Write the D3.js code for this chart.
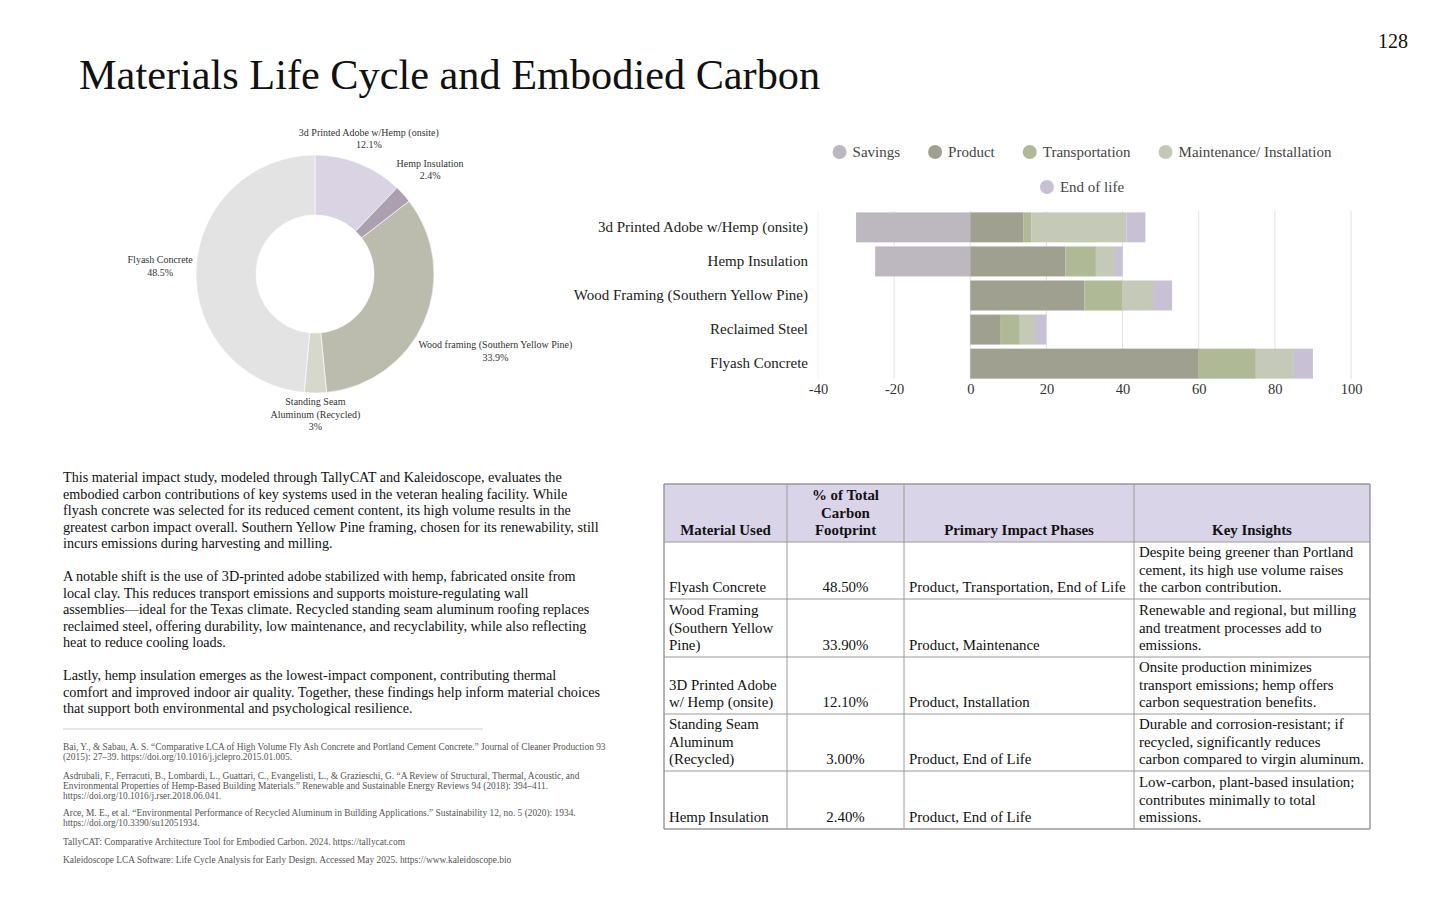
<!DOCTYPE html>
<html>
<head>
<meta charset="utf-8">
<script src="https://cdnjs.cloudflare.com/ajax/libs/d3/7.8.5/d3.min.js"></script>
<style>
body { margin: 0; background: #fff; }
svg text { font-family: "Liberation Serif", "Times New Roman", serif; }
</style>
</head>
<body>
<div id="page"></div>
<script>
// donut data
var pieLabels = ["3d Printed Adobe w/Hemp (onsite)", "Hemp Insulation", "Wood framing (Southern Yellow Pine)", "Standing Seam|Aluminum (Recycled)", "Flyash Concrete"];
var pieValues = [12.1, 2.4, 33.9, 3, 48.5];
var pieColors = ["#d9d3e4", "#ab9fb0", "#bbbcae", "#d5d8ca", "#e3e3e3"];

// stacked bar data
var barCategories = ["3d Printed Adobe w/Hemp (onsite)", "Hemp Insulation", "Wood Framing (Southern Yellow Pine)", "Reclaimed Steel", "Flyash Concrete"];
var savings = [-30, -25, 0, 0, 0];
var product = [14, 25, 30, 8, 60];
var transportation = [2, 8, 10, 5, 15];
var maintenance = [25, 5, 8, 4, 10];
var endOfLife = [5, 2, 5, 3, 5];
var seriesNames = ["Savings", "Product", "Transportation", "Maintenance/ Installation", "End of life"];
var seriesColors = ["#bdb8c0", "#9fa090", "#afb995", "#c5c9b8", "#c8c1d6"];
var xTicks = [-40, -20, 0, 20, 40, 60, 80, 100];

// table
var tableHeader = [["Material Used"], ["% of Total", "Carbon", "Footprint"], ["Primary Impact Phases"], ["Key Insights"]];
var tableMaterials = [["Flyash Concrete"], ["Wood Framing", "(Southern Yellow", "Pine)"], ["3D Printed Adobe", "w/ Hemp (onsite)"], ["Standing Seam", "Aluminum", "(Recycled)"], ["Hemp Insulation"]];
var tableShares = ["48.50%", "33.90%", "12.10%", "3.00%", "2.40%"];
var tablePhases = ["Product, Transportation, End of Life", "Product, Maintenance", "Product, Installation", "Product, End of Life", "Product, End of Life"];
var tableInsights = [
  ["Despite being greener than Portland", "cement, its high use volume raises", "the carbon contribution."],
  ["Renewable and regional, but milling", "and treatment processes add to", "emissions."],
  ["Onsite production minimizes", "transport emissions; hemp offers", "carbon sequestration benefits."],
  ["Durable and corrosion-resistant; if", "recycled, significantly reduces", "carbon compared to virgin aluminum."],
  ["Low-carbon, plant-based insulation;", "contributes minimally to total", "emissions."]
];

var bodyParagraphs = [
  ["This material impact study, modeled through TallyCAT and Kaleidoscope, evaluates the",
   "embodied carbon contributions of key systems used in the veteran healing facility. While",
   "flyash concrete was selected for its reduced cement content, its high volume results in the",
   "greatest carbon impact overall. Southern Yellow Pine framing, chosen for its renewability, still",
   "incurs emissions during harvesting and milling."],
  ["A notable shift is the use of 3D-printed adobe stabilized with hemp, fabricated onsite from",
   "local clay. This reduces transport emissions and supports moisture-regulating wall",
   "assemblies\u2014ideal for the Texas climate. Recycled standing seam aluminum roofing replaces",
   "reclaimed steel, offering durability, low maintenance, and recyclability, while also reflecting",
   "heat to reduce cooling loads."],
  ["Lastly, hemp insulation emerges as the lowest-impact component, contributing thermal",
   "comfort and improved indoor air quality. Together, these findings help inform material choices",
   "that support both environmental and psychological resilience."]
];

var references = [
  ["Bai, Y., & Sabau, A. S. \u201cComparative LCA of High Volume Fly Ash Concrete and Portland Cement Concrete.\u201d Journal of Cleaner Production 93",
   "(2015): 27\u201339. https://doi.org/10.1016/j.jclepro.2015.01.005."],
  ["Asdrubali, F., Ferracuti, B., Lombardi, L., Guattari, C., Evangelisti, L., & Grazieschi, G. \u201cA Review of Structural, Thermal, Acoustic, and",
   "Environmental Properties of Hemp-Based Building Materials.\u201d Renewable and Sustainable Energy Reviews 94 (2018): 394\u2013411.",
   "https://doi.org/10.1016/j.rser.2018.06.041."],
  ["Arce, M. E., et al. \u201cEnvironmental Performance of Recycled Aluminum in Building Applications.\u201d Sustainability 12, no. 5 (2020): 1934.",
   "https://doi.org/10.3390/su12051934."],
  ["TallyCAT: Comparative Architecture Tool for Embodied Carbon. 2024. https://tallycat.com"],
  ["Kaleidoscope LCA Software: Life Cycle Analysis for Early Design. Accessed May 2025. https://www.kaleidoscope.bio"]
];

var svg = d3.select("#page").append("svg")
    .attr("width", 1440)
    .attr("height", 923);

// page title and number
svg.append("text")
    .attr("x", 79).attr("y", 89)
    .style("font-size", "42.3px")
    .attr("fill", "#111")
    .text("Materials Life Cycle and Embodied Carbon");
svg.append("text")
    .attr("x", 1408).attr("y", 48)
    .attr("text-anchor", "end")
    .style("font-size", "20px")
    .attr("fill", "#111")
    .text("128");

// ---------- donut ----------
var cx = 315, cy = 274, outerR = 119, innerR = 59;
var pie = d3.pie().sort(null).value(function (d) { return d; });
var arc = d3.arc().innerRadius(innerR).outerRadius(outerR);
var donut = svg.append("g").attr("transform", "translate(" + cx + "," + cy + ")");
var arcs = pie(pieValues);
donut.selectAll("path")
    .data(arcs)
    .enter().append("path")
    .attr("d", arc)
    .attr("fill", function (d, i) { return pieColors[i]; })
    .attr("stroke", "#fff")
    .attr("stroke-width", 0.6);

// labels pushed outward along the mid angle until they clear the ring
arcs.forEach(function (a, i) {
    var lines = pieLabels[i].split("|");
    lines.push((pieValues[i] + "%"));
    var lineH = 12.5;
    var g = donut.append("g");
    var t = g.append("text")
        .attr("text-anchor", "middle")
        .style("font-size", "10px")
        .attr("fill", "#333");
    lines.forEach(function (l, k) {
        t.append("tspan").attr("x", 0).attr("y", k * lineH).text(l);
    });
    var w = 0;
    t.selectAll("tspan").each(function () { w = Math.max(w, this.getComputedTextLength()); });
    var hw = w / 2, hh = lines.length * lineH / 2;
    var mid = (a.startAngle + a.endAngle) / 2;
    var sx = Math.sin(mid), sy = -Math.cos(mid);
    var d = outerR;
    for (; d < 400; d += 0.5) {
        var px = Math.max(Math.abs(sx * d) - hw, 0);
        var py = Math.max(Math.abs(sy * d) - hh, 0);
        if (Math.sqrt(px * px + py * py) >= outerR + 3) break;
    }
    var lx = sx * d, ly = sy * d;
    g.attr("transform", "translate(" + lx + "," + (ly - hh + 9) + ")");
});

// ---------- stacked bars ----------
var x = d3.scaleLinear().domain([-40, 100]).range([818, 1351]);
var y = d3.scaleBand().domain(barCategories).range([211, 380]).paddingInner(0.12).paddingOuter(0.04);

var rows = barCategories.map(function (c, i) {
    return { cat: c, s0: savings[i], s1: product[i], s2: transportation[i], s3: maintenance[i], s4: endOfLife[i] };
});
var keys = ["s0", "s1", "s2", "s3", "s4"];
var stack = d3.stack().keys(keys).offset(d3.stackOffsetDiverging);
var stacked = stack(rows);

svg.append("g")
    .selectAll("line")
    .data(xTicks)
    .enter().append("line")
    .attr("x1", function (d) { return x(d); })
    .attr("x2", function (d) { return x(d); })
    .attr("y1", 211).attr("y2", 379)
    .attr("stroke", function (d) { return d === -40 ? "#f2f2f2" : "#e2e2e2"; })
    .attr("stroke-width", 1);

var layers = svg.append("g").selectAll("g")
    .data(stacked)
    .enter().append("g")
    .attr("fill", function (d, i) { return seriesColors[i]; });
layers.selectAll("rect")
    .data(function (d) { return d; })
    .enter().append("rect")
    .filter(function (d) { return d[1] !== d[0]; })
    .attr("x", function (d) { return x(Math.min(d[0], d[1])); })
    .attr("width", function (d) { return Math.abs(x(d[1]) - x(d[0])); })
    .attr("y", function (d) { return y(d.data.cat); })
    .attr("height", y.bandwidth());

var xAxis = svg.append("g")
    .attr("transform", "translate(0,380)")
    .call(d3.axisBottom(x).tickValues(xTicks).tickFormat(function (d) { return String(d); }).tickSize(0).tickPadding(4));
xAxis.select(".domain").remove();
xAxis.selectAll("text")
    .style("font-family", "'Liberation Serif', serif")
    .style("font-size", "14.5px")
    .attr("fill", "#333");

var yAxis = svg.append("g")
    .attr("transform", "translate(808,0)")
    .call(d3.axisLeft(y).tickSize(0).tickPadding(0));
yAxis.select(".domain").remove();
yAxis.selectAll("text")
    .style("font-family", "'Liberation Serif', serif")
    .style("font-size", "15px")
    .attr("fill", "#222");

// legend, centred and wrapped over two rows
var legendCenter = 1082, legendMax = 540, legendRowH = 35;
var legendItems = seriesNames.map(function (n, i) {
    var g = svg.append("g");
    g.append("circle").attr("r", 7).attr("cx", 7).attr("cy", 0).attr("fill", seriesColors[i]);
    var t = g.append("text").attr("x", 20).attr("y", 5)
        .style("font-size", "15px").attr("fill", "#444").text(n);
    return { g: g, w: 20 + t.node().getComputedTextLength() };
});
var legendRows = [[]], rowW = [0], gap = 28;
legendItems.forEach(function (it) {
    var r = legendRows.length - 1;
    var add = (legendRows[r].length ? gap : 0) + it.w;
    if (rowW[r] + add > legendMax) { legendRows.push([it]); rowW.push(it.w); }
    else { legendRows[r].push(it); rowW[r] += add; }
});
legendRows.forEach(function (row, r) {
    var cur = legendCenter - rowW[r] / 2;
    row.forEach(function (it) {
        it.g.attr("transform", "translate(" + cur + "," + (152 + r * legendRowH) + ")");
        cur += it.w + gap;
    });
});

// ---------- body text ----------
var bodyY = 482, bodyLH = 16.5;
var body = svg.append("text").style("font-size", "14.2px").attr("fill", "#111");
var lineNo = 0;
bodyParagraphs.forEach(function (p, pi) {
    p.forEach(function (l) {
        body.append("tspan").attr("x", 63).attr("y", bodyY + lineNo * bodyLH).text(l);
        lineNo++;
    });
    lineNo++;
});

svg.append("line")
    .attr("x1", 63).attr("x2", 483).attr("y1", 729).attr("y2", 729)
    .attr("stroke", "#cfcfcf").attr("stroke-width", 1);

var refTops = [750, 779, 816, 845, 863];
var refs = svg.append("text").style("font-size", "9.4px").attr("fill", "#555");
references.forEach(function (r, i) {
    r.forEach(function (l, k) {
        refs.append("tspan").attr("x", 63).attr("y", refTops[i] + k * 10).text(l);
    });
});

// ---------- table ----------
var colX = [664, 787, 904, 1134, 1370];
var rowY = [484, 542, 599, 657, 714, 771, 829];
var tLH = 17.3;
var tbl = svg.append("g");
tbl.append("rect")
    .attr("x", colX[0]).attr("y", rowY[0])
    .attr("width", colX[4] - colX[0]).attr("height", rowY[1] - rowY[0])
    .attr("fill", "#dad4e9");

function cellText(lines, col, row, align, bold) {
    var bottom = rowY[row + 1] - 7;
    var n = lines.length;
    var tx = align === "middle" ? (colX[col] + colX[col + 1]) / 2 : colX[col] + 5;
    var t = tbl.append("text")
        .attr("text-anchor", align === "middle" ? "middle" : "start")
        .style("font-size", "14.9px")
        .style("font-weight", bold ? "bold" : "normal")
        .attr("fill", "#111");
    lines.forEach(function (l, k) {
        t.append("tspan").attr("x", tx).attr("y", bottom - (n - 1 - k) * tLH).text(l);
    });
}
tableHeader.forEach(function (h, c) { cellText(h, c, 0, "middle", true); });
tableMaterials.forEach(function (m, r) {
    cellText(m, 0, r + 1, "start");
    cellText([tableShares[r]], 1, r + 1, "middle");
    cellText([tablePhases[r]], 2, r + 1, "start");
    cellText(tableInsights[r], 3, r + 1, "start");
});

tbl.selectAll("line.h")
    .data(rowY)
    .enter().append("line")
    .attr("x1", colX[0]).attr("x2", colX[4])
    .attr("y1", function (d) { return d; }).attr("y2", function (d) { return d; })
    .attr("stroke", "#9a9a9a").attr("stroke-width", function (d, i) { return (i === 0 || i === rowY.length - 1) ? 1.5 : 1; });
tbl.selectAll("line.v")
    .data(colX)
    .enter().append("line")
    .attr("y1", rowY[0]).attr("y2", rowY[rowY.length - 1])
    .attr("x1", function (d) { return d; }).attr("x2", function (d) { return d; })
    .attr("stroke", "#9a9a9a").attr("stroke-width", function (d, i) { return (i === 0 || i === colX.length - 1) ? 1.5 : 1; });
</script>
</body>
</html>
